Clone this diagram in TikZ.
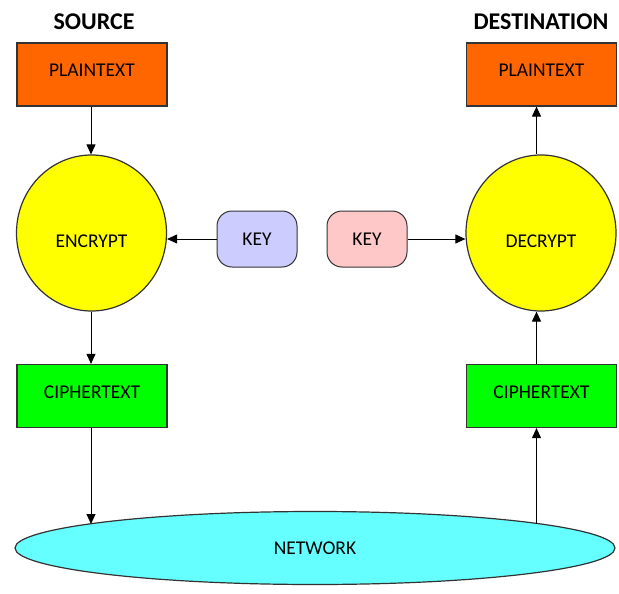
\documentclass[tikz,border=0pt]{standalone}
\usepackage{fontspec}
\setmainfont{Carlito}
\usetikzlibrary{arrows.meta,shapes.geometric}
\definecolor{plainfill}{HTML}{FF6600}
\definecolor{cryptfill}{HTML}{FFFF00}
\definecolor{cipherfill}{HTML}{00FF00}
\definecolor{netfill}{HTML}{66FFFF}
\definecolor{keyblue}{HTML}{CCCCFF}
\definecolor{keypink}{HTML}{FFC8C8}
\definecolor{edge}{HTML}{333333}
\begin{document}
\begin{tikzpicture}[x=1pt,y=-1pt,
  boxtext/.style={font=\fontsize{19.5}{22}\selectfont},
  box/.style={boxtext,draw=edge,line width=1.2pt,minimum width=150pt,minimum height=63pt,inner sep=0pt,
    text height=12pt,text depth=8pt},
  plainbox/.style={box,fill=plainfill},
  cipherbox/.style={box,fill=cipherfill},
  cryptnode/.style={boxtext,ellipse,draw=edge,line width=1.2pt,fill=cryptfill,minimum width=150pt,minimum height=156pt,inner sep=0pt,
    text height=28pt,text depth=0pt},
  keynode/.style={boxtext,draw=edge,line width=1pt,rounded corners=15pt,minimum width=80pt,minimum height=56pt,inner sep=0pt},
  title/.style={font=\bfseries\fontsize{24}{27}\selectfont},
  conn/.style={draw=black,line width=1pt,-{Triangle[length=10pt,width=9pt]}}]
\useasboundingbox (0,0) rectangle (619,594);

% column titles
\node[title] (srctitle) at (94,22) {SOURCE};
\node[title] (dsttitle) at (541,22) {DESTINATION};

% source side
\node[plainbox] (plain1) at (92,74.5) {PLAINTEXT};
\node[cryptnode] (enc) at (91.5,233) {ENCRYPT};
\node[cipherbox] (ciph1) at (92,396) {CIPHERTEXT};

% destination side
\node[plainbox] (plain2) at (541.5,74.5) {PLAINTEXT};
\node[cryptnode] (dec) at (541,233) {DECRYPT};
\node[cipherbox] (ciph2) at (541.5,396) {CIPHERTEXT};

% keys
\node[keynode,fill=keyblue] (key1) at (257,239) {KEY};
\node[keynode,fill=keypink] (key2) at (367,239) {KEY};

% network
\node[ellipse,boxtext,draw=edge,line width=1.2pt,fill=netfill,minimum width=600pt,minimum height=73pt,inner sep=0pt] (net) at (315,548) {NETWORK};

% arrow columns and attachment points on the network rim
\coordinate (lcol) at (91,0);
\coordinate (rcol) at (536.5,0);
\coordinate (netin) at (91,524);
\coordinate (netout) at (536.5,524);

% connectors
\draw[conn] (plain1.south -| lcol) -- (enc.north -| lcol);
\draw[conn] (enc.south -| lcol) -- (ciph1.north -| lcol);
\draw[conn] (ciph1.south -| lcol) -- (netin);
\draw[conn] (netout) -- (ciph2.south -| rcol);
\draw[conn] (ciph2.north -| rcol) -- (dec.south -| rcol);
\draw[conn] (dec.north -| rcol) -- (plain2.south -| rcol);
\draw[conn] (key1.west) -- (key1.west -| enc.east);
\draw[conn] (key2.east) -- (key2.east -| dec.west);
\end{tikzpicture}
\end{document}
